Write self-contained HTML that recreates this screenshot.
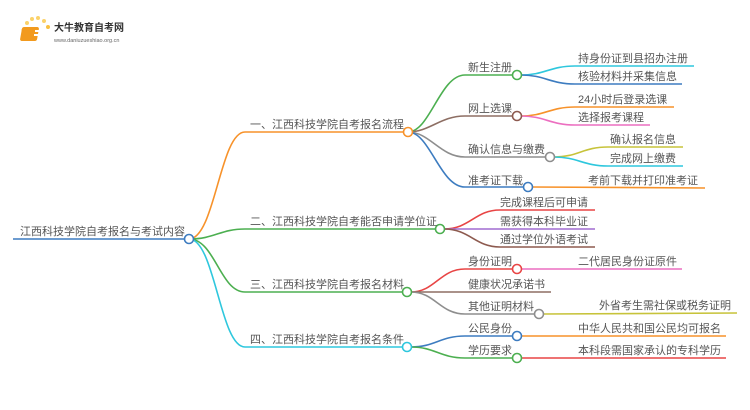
<!DOCTYPE html>
<html><head><meta charset="utf-8"><style>
html,body{margin:0;padding:0;background:#fff;}
svg{display:block}
text{font-family:"Liberation Sans","Noto Sans CJK SC",sans-serif;fill:#555;font-size:11px}
</style></head><body>
<svg width="750" height="410" viewBox="0 0 750 410" xmlns="http://www.w3.org/2000/svg">
<g>
<circle cx="27" cy="23" r="2" fill="#fbd26a"/><circle cx="32" cy="19" r="2" fill="#fbd26a"/><circle cx="38" cy="18" r="2" fill="#fbd26a"/><circle cx="44" cy="21" r="2" fill="#fbd26a"/><circle cx="23" cy="30" r="1.5" fill="#fbd26a"/><circle cx="48" cy="27" r="2" fill="#f9c040"/>
<rect x="27" y="27" width="17" height="14" rx="2" fill="#f29a1e" transform="skewX(-10)"/>
<rect x="35" y="30" width="8" height="2" fill="#fff"/><rect x="34" y="34" width="8" height="2" fill="#fff"/>
<text x="54" y="31" style="font-size:10px;fill:#333;font-weight:bold">大牛教育自考网</text>
<text x="54" y="42" style="font-size:5.5px;fill:#666">www.daniuzueshiao.org.cn</text>
</g>
<g fill="none" stroke-width="1.6">
<line x1="13" y1="239" x2="185" y2="239" stroke="#3d7cc0"/>
<path d="M189 239 C215 239,220 132,245 132 L404 132" stroke="#f7922a"/>
<path d="M189 239 C215 239,220 229,245 229 L436 229" stroke="#4caf50"/>
<path d="M189 239 C215 239,220 292,245 292 L403 292" stroke="#4caf50"/>
<path d="M189 239 C215 239,220 347,245 347 L403 347" stroke="#2ec7dd"/>
<path d="M408 132 C430 132,440 75,465 75 L513 75" stroke="#4caf50"/>
<path d="M408 132 C430 132,440 116,465 116 L513 116" stroke="#8d6e63"/>
<path d="M408 132 C430 132,440 157,465 157 L546 157" stroke="#8e8e8e"/>
<path d="M408 132 C430 132,440 187,465 187 L524 187" stroke="#3d7cc0"/>
<path d="M521 75 C545 75,550 66,575 66 L694 66" stroke="#2ec7dd"/>
<path d="M521 75 C545 75,550 84,575 84 L682 84" stroke="#3d7cc0"/>
<path d="M521 116 C545 116,550 107,575 107 L674 107" stroke="#f7922a"/>
<path d="M521 116 C545 116,550 125,575 125 L650 125" stroke="#ec6fc0"/>
<path d="M554 157 C578 157,583 147,608 147 L683 147" stroke="#c7c33a"/>
<path d="M554 157 C578 157,583 166,608 166 L683 166" stroke="#2ec7dd"/>
<path d="M532 187 L705 188" stroke="#f7922a"/>
<path d="M444 229 C470 229,475 210,500 210 L595 210" stroke="#e84545"/>
<path d="M444 229 L595 229" stroke="#a16bd0"/>
<path d="M444 229 C470 229,475 247,500 247 L595 247" stroke="#8d5a4f"/>
<path d="M411 292 C435 292,440 269,465 269 L513 269" stroke="#e84545"/>
<path d="M411 292 L551 292" stroke="#8d6e63"/>
<path d="M411 292 C435 292,440 314,465 314 L535 314" stroke="#8e8e8e"/>
<path d="M521 269 L682 269" stroke="#ec6fc0"/>
<path d="M543 314 L737 313" stroke="#c7c33a"/>
<path d="M411 347 C435 347,440 336,465 336 L513 336" stroke="#3d7cc0"/>
<path d="M411 347 C435 347,440 358,465 358 L513 358" stroke="#4caf50"/>
<path d="M521 336 L726 336" stroke="#f7922a"/>
<path d="M521 358 L726 358" stroke="#e84545"/>
</g>
<g fill="#fff" stroke-width="1.6">
<circle cx="189" cy="239" r="4.5" stroke="#3d7cc0"/>
<circle cx="408" cy="132" r="4.5" stroke="#f7922a"/>
<circle cx="440" cy="229" r="4.5" stroke="#4caf50"/>
<circle cx="407" cy="292" r="4.5" stroke="#4caf50"/>
<circle cx="407" cy="347" r="4.5" stroke="#2ec7dd"/>
<circle cx="517" cy="75" r="4.5" stroke="#4caf50"/>
<circle cx="517" cy="116" r="4.5" stroke="#8d5a4f"/>
<circle cx="550" cy="157" r="4.5" stroke="#8e8e8e"/>
<circle cx="528" cy="187" r="4.5" stroke="#3d7cc0"/>
<circle cx="517" cy="269" r="4.5" stroke="#e84545"/>
<circle cx="539" cy="314" r="4.5" stroke="#8e8e8e"/>
<circle cx="517" cy="336" r="4.5" stroke="#3d7cc0"/>
<circle cx="517" cy="358" r="4.5" stroke="#4caf50"/>
</g>
<text x="20" y="235">江西科技学院自考报名与考试内容</text>
<text x="250" y="128">一、江西科技学院自考报名流程</text>
<text x="250" y="225">二、江西科技学院自考能否申请学位证</text>
<text x="250" y="288">三、江西科技学院自考报名材料</text>
<text x="250" y="343">四、江西科技学院自考报名条件</text>
<text x="468" y="71">新生注册</text>
<text x="468" y="112">网上选课</text>
<text x="468" y="153">确认信息与缴费</text>
<text x="468" y="184">准考证下载</text>
<text x="578" y="62">持身份证到县招办注册</text>
<text x="578" y="80">核验材料并采集信息</text>
<text x="578" y="103">24小时后登录选课</text>
<text x="578" y="121">选择报考课程</text>
<text x="610" y="143">确认报名信息</text>
<text x="610" y="162">完成网上缴费</text>
<text x="588" y="184">考前下载并打印准考证</text>
<text x="500" y="206">完成课程后可申请</text>
<text x="500" y="225">需获得本科毕业证</text>
<text x="500" y="243">通过学位外语考试</text>
<text x="468" y="265">身份证明</text>
<text x="468" y="288">健康状况承诺书</text>
<text x="468" y="310">其他证明材料</text>
<text x="578" y="265">二代居民身份证原件</text>
<text x="599" y="309">外省考生需社保或税务证明</text>
<text x="468" y="332">公民身份</text>
<text x="468" y="354">学历要求</text>
<text x="578" y="332">中华人民共和国公民均可报名</text>
<text x="578" y="354">本科段需国家承认的专科学历</text>
</svg>
</body></html>
